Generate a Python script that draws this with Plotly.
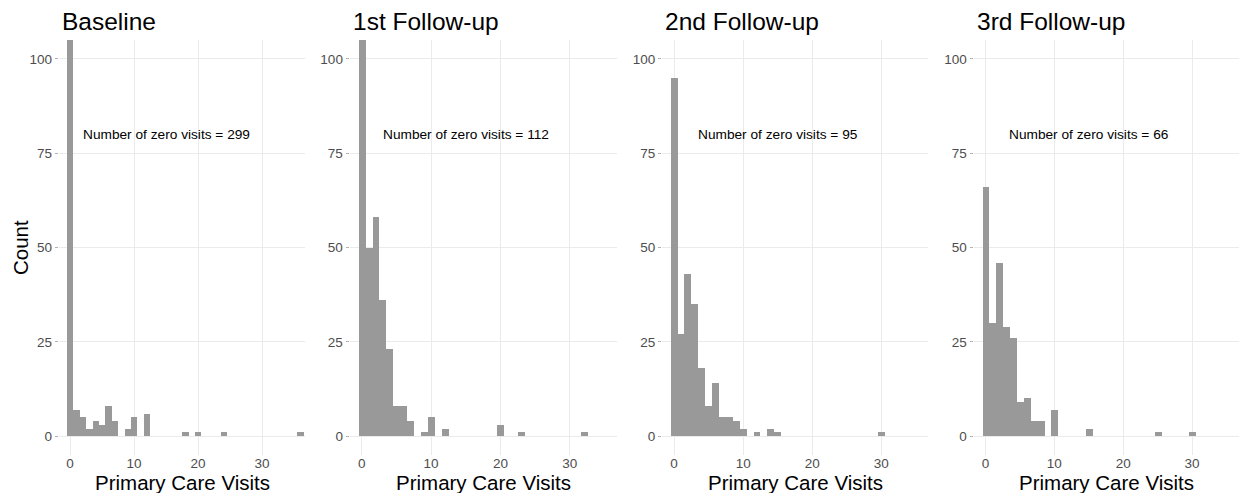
import plotly.graph_objects as go

# ---- data ----
panel_titles = ["Baseline", "1st Follow-up", "2nd Follow-up", "3rd Follow-up"]
zero_counts = [299, 112, 95, 66]

baseline_visits = [0, 1, 2, 3, 4, 5, 6, 7, 9, 10, 12, 18, 20, 24, 36]
baseline_counts = [299, 7, 5, 2, 4, 3, 8, 4, 2, 5, 6, 1, 1, 1, 1]

fu1_visits = [0, 1, 2, 3, 4, 5, 6, 7, 9, 10, 12, 20, 23, 32]
fu1_counts = [112, 50, 58, 36, 23, 8, 8, 4, 1, 5, 2, 3, 1, 1]

fu2_visits = [0, 1, 2, 3, 4, 5, 6, 7, 8, 9, 10, 12, 14, 15, 30]
fu2_counts = [95, 27, 43, 35, 18, 8, 14, 5, 5, 4, 2, 1, 2, 1, 1]

fu3_visits = [0, 1, 2, 3, 4, 5, 6, 7, 8, 10, 15, 25, 30]
fu3_counts = [66, 30, 46, 29, 26, 9, 10, 4, 4, 7, 2, 1, 1]

x_ticks = [0, 10, 20, 30]
y_ticks = [0, 25, 50, 75, 100]

panels = [
    (baseline_visits, baseline_counts),
    (fu1_visits, fu1_counts),
    (fu2_visits, fu2_counts),
    (fu3_visits, fu3_counts),
]

# ---- layout geometry ----
W, H = 1239, 493
FONT = "Liberation Sans, Arial, sans-serif"
px_domains = [(58.8, 305.2), (349.6, 616.7), (662.0, 928.0), (973.5, 1238.5)]
y_dom = [(H - 455) / H, (H - 40) / H]

fig = go.Figure()
layout = dict(
    width=W, height=H,
    margin=dict(l=0, r=0, t=0, b=0),
    paper_bgcolor="white", plot_bgcolor="white",
    showlegend=False,
    font=dict(family=FONT, color="#000000"),
    bargap=0,
)
annotations = []

for i, ((vx, vy), title, zc, (l, r)) in enumerate(zip(panels, panel_titles, zero_counts, px_domains)):
    n = "" if i == 0 else str(i + 1)
    xa, ya = "x" + n, "y" + n
    fig.add_trace(go.Bar(
        x=vx, y=vy, width=1.0, xaxis=xa, yaxis=ya,
        marker=dict(color="#999999", line=dict(width=0)),
        hoverinfo="x+y",
    ))
    layout["xaxis" + n] = dict(
        domain=[l / W, r / W], anchor=ya, range=[-1.75, 36.75],
        tickvals=x_ticks, ticks="", showline=False,
        showgrid=True, gridcolor="#ebebeb", gridwidth=1, zeroline=False,
        tickfont=dict(family=FONT, size=13.5, color="#4d4d4d"),
        ticklabelstandoff=-2,
        fixedrange=True,
    )
    layout["yaxis" + n] = dict(
        domain=y_dom, anchor=xa, range=[-5, 105],
        tickvals=y_ticks, ticks="outside", ticklen=3, tickcolor="#b0b0b0",
        showline=False, showgrid=True, gridcolor="#ebebeb", gridwidth=1,
        zeroline=False,
        tickfont=dict(family=FONT, size=13.5, color="#4d4d4d"),
        fixedrange=True,
    )
    # panel title
    annotations.append(dict(
        text=title, x=(l + 1) / W, y=(H - 22) / H, xref="paper", yref="paper",
        xanchor="left", yanchor="middle", showarrow=False,
        font=dict(family=FONT, size=24.5, color="#000000"),
    ))
    # x-axis title
    annotations.append(dict(
        text="Primary Care Visits", x=(l + r) / 2 / W, y=(H - 482) / H,
        xref="paper", yref="paper", xanchor="center", yanchor="middle",
        showarrow=False, borderpad=0,
        font=dict(family=FONT, size=20.5, color="#000000"),
    ))
    # zero-visit annotation
    annotations.append(dict(
        text=f"Number of zero visits = {zc}", x=15, y=80, xref=xa, yref=ya,
        xanchor="center", yanchor="middle", showarrow=False,
        font=dict(family=FONT, size=13.7, color="#000000"),
    ))

annotations.append(dict(
    text="Count", x=20 / W, y=(H - 247) / H, xref="paper", yref="paper",
    xanchor="center", yanchor="middle", textangle=-90, showarrow=False,
    font=dict(family=FONT, size=20.5, color="#000000"),
))
layout["annotations"] = annotations
fig.update_layout(**layout)
fig.write_html(
    "out.html",
    config={"displayModeBar": False},
    post_script="document.body.style.margin='0';document.body.style.padding='0';document.body.style.overflow='hidden';",
)
